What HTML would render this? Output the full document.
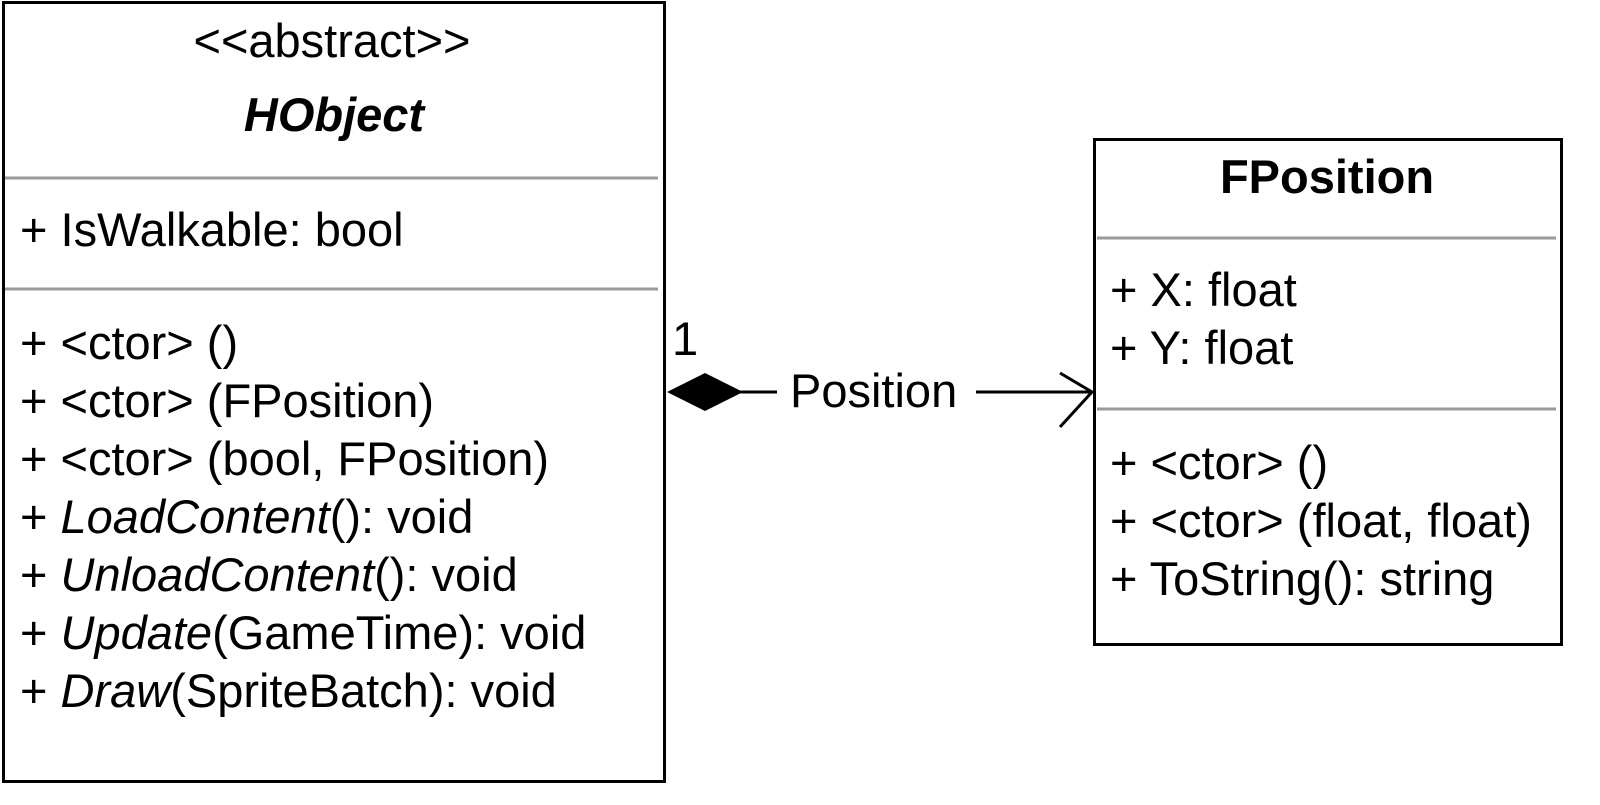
<!DOCTYPE html>
<html><head><meta charset="utf-8"><style>
html,body{margin:0;padding:0;background:#fff;width:1600px;height:805px;overflow:hidden}
text{font-family:"Liberation Sans",Arial,sans-serif;font-size:47px;fill:#000}
</style></head><body>
<svg width="1600" height="805" viewBox="0 0 1600 805">
<g>
<rect x="3.5" y="2.5" width="661" height="779" fill="#fff" stroke="#000" stroke-width="3"/>
<text x="332" y="57" text-anchor="middle">&lt;&lt;abstract&gt;&gt;</text>
<text x="334" y="131" text-anchor="middle" font-weight="bold" font-style="italic">HObject</text>
<line x1="5" y1="178" x2="658" y2="178" stroke="#9a9a9a" stroke-width="3"/>
<text x="20" y="246">+ IsWalkable: bool</text>
<line x1="5" y1="289" x2="658" y2="289" stroke="#9a9a9a" stroke-width="3"/>
<text x="20" y="359">+ &lt;ctor&gt; ()</text>
<text x="20" y="417">+ &lt;ctor&gt; (FPosition)</text>
<text x="20" y="475">+ &lt;ctor&gt; (bool, FPosition)</text>
<text x="20" y="533">+ <tspan font-style="italic">LoadContent</tspan>(): void</text>
<text x="20" y="591">+ <tspan font-style="italic">UnloadContent</tspan>(): void</text>
<text x="20" y="649">+ <tspan font-style="italic">Update</tspan>(GameTime): void</text>
<text x="20" y="707">+ <tspan font-style="italic">Draw</tspan>(SpriteBatch): void</text>
</g>
<g>
<rect x="1094.5" y="139.5" width="467" height="505" fill="#fff" stroke="#000" stroke-width="3"/>
<text x="1327" y="193" text-anchor="middle" font-weight="bold">FPosition</text>
<line x1="1097" y1="238" x2="1556" y2="238" stroke="#9a9a9a" stroke-width="3"/>
<text x="1110" y="306">+ X: float</text>
<text x="1110" y="364">+ Y: float</text>
<line x1="1097" y1="409" x2="1556" y2="409" stroke="#9a9a9a" stroke-width="3"/>
<text x="1110" y="479">+ &lt;ctor&gt; ()</text>
<text x="1110" y="537">+ &lt;ctor&gt; (float, float)</text>
<text x="1110" y="595">+ ToString(): string</text>
</g>
<g>
<polygon points="667,392 705,373 743,392 705,411" fill="#000"/>
<line x1="740" y1="392" x2="777" y2="392" stroke="#000" stroke-width="3"/>
<text x="672" y="355" font-size="36">1</text>
<text x="790" y="407">Position</text>
<line x1="976" y1="392" x2="1092" y2="392" stroke="#000" stroke-width="3"/>
<polyline points="1060,373 1092,392 1060,427" fill="none" stroke="#000" stroke-width="3"/>
</g>
</svg>
</body></html>
